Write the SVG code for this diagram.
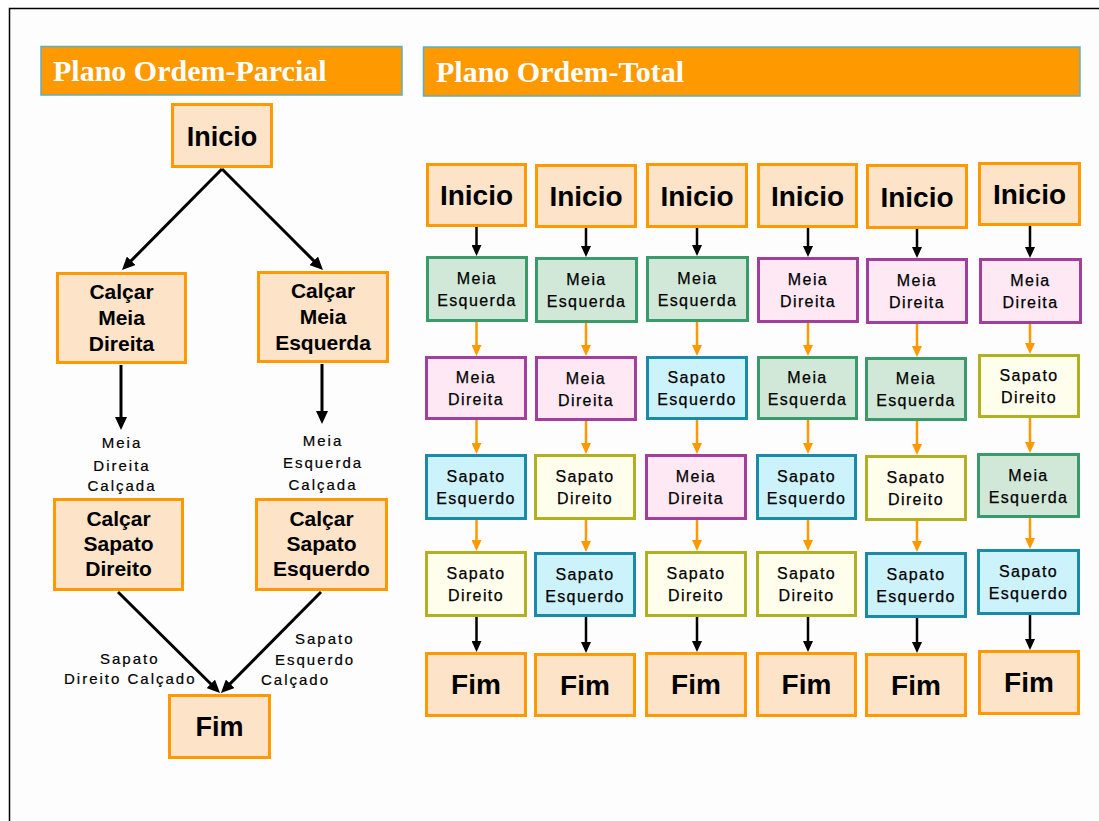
<svg xmlns="http://www.w3.org/2000/svg" width="1099" height="821" viewBox="0 0 1099 821">
  <style>
    .hdr { fill: #ff9900; stroke: #5ab0c0; stroke-width: 1.5; }
    .hdrt { font-family: "Liberation Serif", "Times New Roman", serif; font-weight: bold; font-size: 30px; fill: #ffffff; }
    .box { stroke-width: 3; }
    .st { fill: #fde3c8; stroke: #ff9900; }
    .g { fill: #d1e8d8; stroke: #399a6a; }
    .p { fill: #fde8f4; stroke: #a0409c; }
    .c { fill: #ccf2fc; stroke: #1a8aa8; }
    .y { fill: #fffeec; stroke: #b0b020; }
    text { font-family: "Liberation Sans", Arial, sans-serif; fill: #000000; }
    .big { font-weight: bold; font-size: 28px; text-anchor: middle; }
    .lbl { font-weight: bold; font-size: 21px; text-anchor: middle; }
    .sm { font-size: 16px; letter-spacing: 1.4px; text-anchor: middle; stroke: #000000; stroke-width: 0.25px; }
    .ann { font-size: 15px; letter-spacing: 2px; stroke: #000000; stroke-width: 0.2px; }
    .mid { text-anchor: middle; }
    .blk { stroke: #000000; stroke-width: 3; fill: none; }
    .blks { stroke: #000000; stroke-width: 2.5; fill: none; marker-end: url(#hs); }
    .org { stroke: #ff9900; stroke-width: 2.5; fill: none; marker-end: url(#ho); }
  </style>
  <defs>
    <marker id="hl" viewBox="0 0 13 12" markerWidth="13" markerHeight="12" refX="3" refY="6" orient="auto" markerUnits="userSpaceOnUse">
      <path d="M0,0 L13,6 L0,12 z" fill="#000000"/>
    </marker>
    <marker id="hs" viewBox="0 0 11 10" markerWidth="11" markerHeight="10" refX="3" refY="5" orient="auto" markerUnits="userSpaceOnUse">
      <path d="M0,0 L11,5 L0,10 z" fill="#000000"/>
    </marker>
    <marker id="ho" viewBox="0 0 11 10" markerWidth="11" markerHeight="10" refX="3" refY="5" orient="auto" markerUnits="userSpaceOnUse">
      <path d="M0,0 L11,5 L0,10 z" fill="#ff9900"/>
    </marker>
  </defs>

  <!-- page frame -->
  <rect x="9.5" y="8.5" width="1100" height="830" fill="#fdfdfd" stroke="#000000" stroke-width="1.5"/>

  <!-- section headers -->
  <g id="header-parcial">
    <rect class="hdr" x="41" y="46.5" width="361" height="48.5"/>
    <text class="hdrt" x="53" y="81">Plano Ordem-Parcial</text>
  </g>
  <g id="header-total">
    <rect class="hdr" x="423.5" y="47" width="656.5" height="49"/>
    <text class="hdrt" x="436" y="82">Plano Ordem-Total</text>
  </g>

  <!-- partial-order plan -->
  <g id="po-inicio">
    <rect class="box st" x="172.5" y="104.5" width="99" height="62"/>
    <text class="big" x="222" y="146" style="font-size:27px">Inicio</text>
  </g>
  <g id="po-meia-direita">
    <rect class="box st" x="57.5" y="273.5" width="128" height="89"/>
    <text class="lbl" x="121.5" y="299">Calçar</text>
    <text class="lbl" x="121.5" y="325">Meia</text>
    <text class="lbl" x="121.5" y="351">Direita</text>
  </g>
  <g id="po-meia-esquerda">
    <rect class="box st" x="258.5" y="272.5" width="129" height="89"/>
    <text class="lbl" x="323" y="298">Calçar</text>
    <text class="lbl" x="323" y="324">Meia</text>
    <text class="lbl" x="323" y="350">Esquerda</text>
  </g>
  <g id="po-sapato-direito">
    <rect class="box st" x="54.5" y="499.5" width="128" height="90"/>
    <text class="lbl" x="118.5" y="526">Calçar</text>
    <text class="lbl" x="118.5" y="551">Sapato</text>
    <text class="lbl" x="118.5" y="576">Direito</text>
  </g>
  <g id="po-sapato-esquerdo">
    <rect class="box st" x="256.5" y="499.5" width="130" height="90"/>
    <text class="lbl" x="321.5" y="526">Calçar</text>
    <text class="lbl" x="321.5" y="551">Sapato</text>
    <text class="lbl" x="321.5" y="576">Esquerdo</text>
  </g>
  <g id="po-fim">
    <rect class="box st" x="169.5" y="695.5" width="100" height="62"/>
    <text class="big" x="219.5" y="736" style="font-size:27px">Fim</text>
  </g>

  <!-- total-order plans, one column per ordering -->
  <g id="to-1">
    <rect class="box st" x="427.5" y="164.5" width="98" height="61"/>
    <text class="big" x="476.5" y="205">Inicio</text>
    <rect class="box g" x="427.5" y="257.5" width="99" height="63"/>
    <text class="sm" x="477" y="284">Meia</text><text class="sm" x="477" y="306">Esquerda</text>
    <rect class="box p" x="426.5" y="357.5" width="99" height="61"/>
    <text class="sm" x="476" y="383">Meia</text><text class="sm" x="476" y="405">Direita</text>
    <rect class="box c" x="426.5" y="455.5" width="99" height="63"/>
    <text class="sm" x="476" y="482">Sapato</text><text class="sm" x="476" y="504">Esquerdo</text>
    <rect class="box y" x="426.5" y="552.5" width="99" height="63"/>
    <text class="sm" x="476" y="579">Sapato</text><text class="sm" x="476" y="601">Direito</text>
    <rect class="box st" x="426.5" y="653.5" width="99" height="62"/>
    <text class="big" x="476" y="694">Fim</text>
  </g>
  <g id="to-2">
    <rect class="box st" x="536.5" y="165.5" width="99" height="61"/>
    <text class="big" x="586" y="206">Inicio</text>
    <rect class="box g" x="536.5" y="258.5" width="100" height="63"/>
    <text class="sm" x="586.5" y="285">Meia</text><text class="sm" x="586.5" y="307">Esquerda</text>
    <rect class="box p" x="536.5" y="357.5" width="99" height="62"/>
    <text class="sm" x="586" y="383.5">Meia</text><text class="sm" x="586" y="405.5">Direita</text>
    <rect class="box y" x="535.5" y="455.5" width="99" height="63"/>
    <text class="sm" x="585" y="482">Sapato</text><text class="sm" x="585" y="504">Direito</text>
    <rect class="box c" x="535.5" y="553.5" width="99" height="62"/>
    <text class="sm" x="585" y="579.5">Sapato</text><text class="sm" x="585" y="601.5">Esquerdo</text>
    <rect class="box st" x="535.5" y="654.5" width="99" height="61"/>
    <text class="big" x="585" y="694.5">Fim</text>
  </g>
  <g id="to-3">
    <rect class="box st" x="647.5" y="164.5" width="99" height="62"/>
    <text class="big" x="697" y="205.5">Inicio</text>
    <rect class="box g" x="647.5" y="257.5" width="100" height="63"/>
    <text class="sm" x="697.5" y="284">Meia</text><text class="sm" x="697.5" y="306">Esquerda</text>
    <rect class="box c" x="647.5" y="357.5" width="99" height="61"/>
    <text class="sm" x="697" y="383">Sapato</text><text class="sm" x="697" y="405">Esquerdo</text>
    <rect class="box p" x="646.5" y="455.5" width="99" height="63"/>
    <text class="sm" x="696" y="482">Meia</text><text class="sm" x="696" y="504">Direita</text>
    <rect class="box y" x="646.5" y="552.5" width="99" height="63"/>
    <text class="sm" x="696" y="579">Sapato</text><text class="sm" x="696" y="601">Direito</text>
    <rect class="box st" x="646.5" y="653.5" width="99" height="62"/>
    <text class="big" x="696" y="694">Fim</text>
  </g>
  <g id="to-4">
    <rect class="box st" x="758.5" y="164.5" width="98" height="62"/>
    <text class="big" x="807.5" y="205.5">Inicio</text>
    <rect class="box p" x="758.5" y="258.5" width="99" height="63"/>
    <text class="sm" x="808" y="285">Meia</text><text class="sm" x="808" y="307">Direita</text>
    <rect class="box g" x="758.5" y="357.5" width="98" height="61"/>
    <text class="sm" x="807.5" y="383">Meia</text><text class="sm" x="807.5" y="405">Esquerda</text>
    <rect class="box c" x="757.5" y="455.5" width="98" height="63"/>
    <text class="sm" x="806.5" y="482">Sapato</text><text class="sm" x="806.5" y="504">Esquerdo</text>
    <rect class="box y" x="757.5" y="552.5" width="98" height="63"/>
    <text class="sm" x="806.5" y="579">Sapato</text><text class="sm" x="806.5" y="601">Direito</text>
    <rect class="box st" x="757.5" y="653.5" width="98" height="62"/>
    <text class="big" x="806.5" y="694">Fim</text>
  </g>
  <g id="to-5">
    <rect class="box st" x="867.5" y="165.5" width="99" height="62"/>
    <text class="big" x="917" y="206.5">Inicio</text>
    <rect class="box p" x="867.5" y="259.5" width="99" height="63"/>
    <text class="sm" x="917" y="286">Meia</text><text class="sm" x="917" y="308">Direita</text>
    <rect class="box g" x="866.5" y="358.5" width="99" height="61"/>
    <text class="sm" x="916" y="384">Meia</text><text class="sm" x="916" y="406">Esquerda</text>
    <rect class="box y" x="866.5" y="456.5" width="99" height="63"/>
    <text class="sm" x="916" y="483">Sapato</text><text class="sm" x="916" y="505">Direito</text>
    <rect class="box c" x="866.5" y="553.5" width="99" height="63"/>
    <text class="sm" x="916" y="580">Sapato</text><text class="sm" x="916" y="602">Esquerdo</text>
    <rect class="box st" x="866.5" y="654.5" width="99" height="61"/>
    <text class="big" x="916" y="694.5">Fim</text>
  </g>
  <g id="to-6">
    <rect class="box st" x="979.5" y="163.5" width="100" height="61"/>
    <text class="big" x="1029.5" y="204">Inicio</text>
    <rect class="box p" x="980.5" y="259.5" width="100" height="63"/>
    <text class="sm" x="1030.5" y="286">Meia</text><text class="sm" x="1030.5" y="308">Direita</text>
    <rect class="box y" x="979.5" y="355.5" width="99" height="61"/>
    <text class="sm" x="1029" y="381">Sapato</text><text class="sm" x="1029" y="403">Direito</text>
    <rect class="box g" x="978.5" y="454.5" width="100" height="62"/>
    <text class="sm" x="1028.5" y="480.5">Meia</text><text class="sm" x="1028.5" y="502.5">Esquerda</text>
    <rect class="box c" x="978.5" y="550.5" width="100" height="63"/>
    <text class="sm" x="1028.5" y="577">Sapato</text><text class="sm" x="1028.5" y="599">Esquerdo</text>
    <rect class="box st" x="979.5" y="651.5" width="99" height="62"/>
    <text class="big" x="1029" y="692">Fim</text>
  </g>

  <!-- connectors -->
  <g id="connectors">
    <!-- partial-order plan -->
    <path class="blk" marker-end="url(#hl)" d="M222,169 L129,262.9"/>
    <path class="blk" marker-end="url(#hl)" d="M222,169 L315.9,262.9"/>
    <path class="blk" marker-end="url(#hl)" d="M121,365 L121,420"/>
    <path class="blk" marker-end="url(#hl)" d="M322,364 L322,414"/>
    <path class="blk" marker-end="url(#hl)" d="M118,592 L212.9,686"/>
    <path class="blk" marker-end="url(#hl)" d="M321,592 L228,685.9"/>

    <!-- column 1 -->
    <path class="blks" d="M476.5,227 L476.5,248"/>
    <path class="org" d="M476.5,322 L476.5,348"/>
    <path class="org" d="M476.5,420 L476.5,446"/>
    <path class="org" d="M476.5,520 L476.5,543"/>
    <path class="blks" d="M476.5,617 L476.5,644"/>
    <!-- column 2 -->
    <path class="blks" d="M586,228 L586,249"/>
    <path class="org" d="M586,323 L586,348"/>
    <path class="org" d="M586,421 L586,446"/>
    <path class="org" d="M586,520 L586,544"/>
    <path class="blks" d="M586,617 L586,645"/>
    <!-- column 3 -->
    <path class="blks" d="M697,228 L697,248"/>
    <path class="org" d="M697,322 L697,348"/>
    <path class="org" d="M697,420 L697,446"/>
    <path class="org" d="M697,520 L697,543"/>
    <path class="blks" d="M697,617 L697,644"/>
    <!-- column 4 -->
    <path class="blks" d="M808,228 L808,249"/>
    <path class="org" d="M808,323 L808,348"/>
    <path class="org" d="M808,420 L808,446"/>
    <path class="org" d="M808,520 L808,543"/>
    <path class="blks" d="M808,617 L808,644"/>
    <!-- column 5 -->
    <path class="blks" d="M917,229 L917,250"/>
    <path class="org" d="M917,324 L917,349"/>
    <path class="org" d="M917,421 L917,447"/>
    <path class="org" d="M917,521 L917,544"/>
    <path class="blks" d="M917,618 L917,645"/>
    <!-- column 6 -->
    <path class="blks" d="M1030,226 L1030,250"/>
    <path class="org" d="M1030,324 L1030,346"/>
    <path class="org" d="M1030,418 L1030,445"/>
    <path class="org" d="M1030,518 L1030,541"/>
    <path class="blks" d="M1030,615 L1030,642"/>
  </g>

  <!-- state annotations on the partial-order plan -->
  <g id="po-annotations">
    <text class="ann mid" x="122" y="448">Meia</text>
    <text class="ann mid" x="122" y="471">Direita</text>
    <text class="ann mid" x="122" y="491">Calçada</text>
    <text class="ann mid" x="323" y="446">Meia</text>
    <text class="ann mid" x="323" y="468">Esquerda</text>
    <text class="ann mid" x="323" y="490">Calçada</text>
    <text class="ann" x="100" y="664">Sapato</text>
    <text class="ann" x="64" y="684">Direito Calçado</text>
    <text class="ann" x="295" y="644">Sapato</text>
    <text class="ann" x="275" y="665">Esquerdo</text>
    <text class="ann" x="261" y="685">Calçado</text>
  </g>
</svg>
